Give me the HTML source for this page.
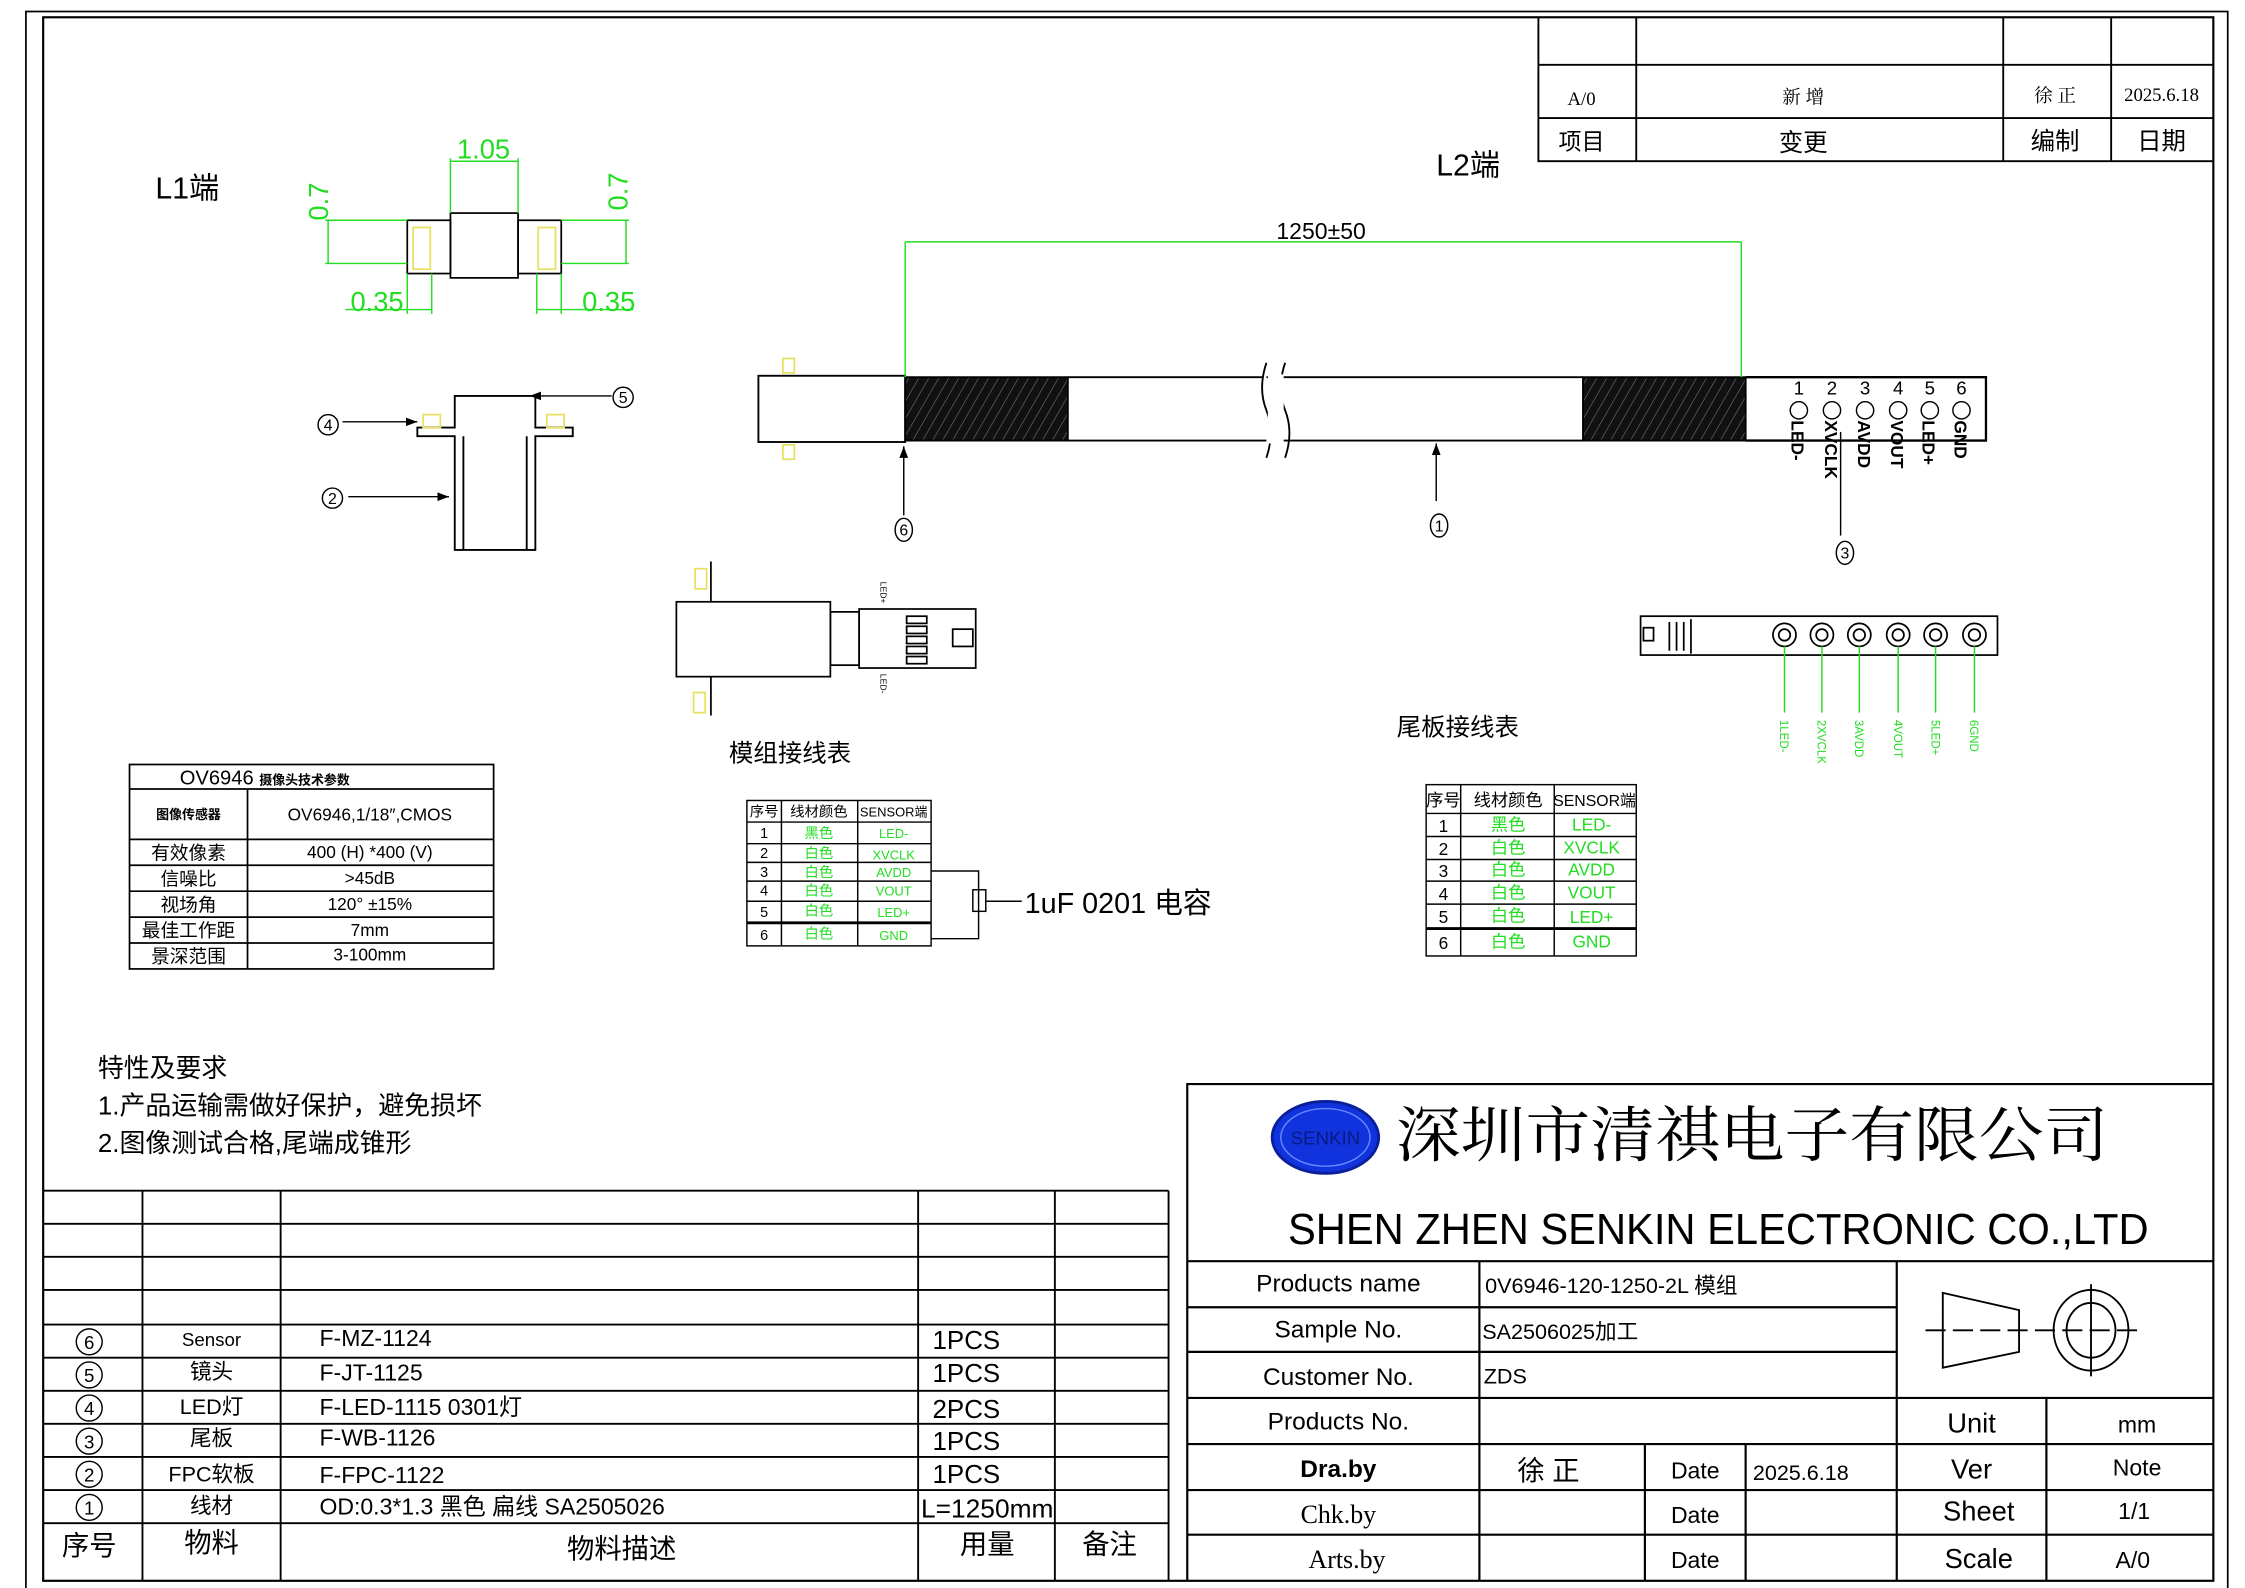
<!DOCTYPE html>
<html><head><meta charset="utf-8"><style>
html,body{margin:0;padding:0;background:#fff;}
svg{display:block;}
text{font-family:"Liberation Sans","Noto Sans CJK SC",sans-serif;fill:#000;}
.s{font-family:"Liberation Serif","Noto Serif CJK SC",serif;}
.g{fill:#22dd22;}
</style></head><body>
<svg width="2245" height="1588" viewBox="0 0 1560 1103" preserveAspectRatio="none" xmlns="http://www.w3.org/2000/svg">
<defs>
<marker id="ar" markerWidth="8" markerHeight="6" refX="8" refY="3" orient="auto"><path d="M0,0 L8,3 L0,6 z" fill="#000"/></marker>
<pattern id="hat" width="6" height="6" patternUnits="userSpaceOnUse" patternTransform="rotate(30)"><rect width="6" height="6" fill="#111"/><line x1="0" y1="0" x2="0" y2="6" stroke="#777" stroke-width="0.8"/></pattern>
</defs>
<g fill="none" stroke="#000">
<rect x="18" y="8" width="1530" height="1098" stroke-width="1.2"/>
<rect x="30" y="12" width="1508" height="1086" stroke-width="1.5"/>
<!-- revision block -->
<path d="M1069,12 V112 H1538 M1069,45 H1538 M1069,82 H1538 M1137,12 V112 M1392,12 V112 M1467,12 V112" stroke-width="1.3"/>
</g>
<g font-size="13" class="s" text-anchor="middle">
<text x="1099" y="73" class="s">A/0</text><text x="1253" y="72" class="s">新 增</text><text x="1428" y="71" class="s">徐 正</text><text x="1502" y="70" font-size="13" class="s">2025.6.18</text>
<text x="1099" y="104" font-size="16">项目</text><text x="1253" y="105" font-size="17">变更</text><text x="1428" y="104" font-size="17">编制</text><text x="1502" y="104" font-size="17">日期</text>
</g>
<text x="108" y="138" font-size="21">L1端</text>
<text x="998" y="122" font-size="21">L2端</text>

<!-- L1 dims -->
<g fill="none" stroke="#000" stroke-width="1.2">
<rect x="313" y="148" width="47" height="45"/><rect x="283" y="153" width="30" height="37"/><rect x="360" y="153" width="30" height="37"/>
</g>
<g fill="none" stroke="#e8e060" stroke-width="1.2"><rect x="287" y="158" width="12" height="29"/><rect x="374" y="158" width="12" height="29"/></g>
<g stroke="#22dd22" stroke-width="1" fill="none">
<path d="M313,148 V110 M360,148 V110 M313,112 H360"/>
<path d="M283,153 H226 M283,183 H226 M228,153 V183"/>
<path d="M390,153 H437 M390,183 H437 M435,153 V183"/>
<path d="M283,190 V218 M300,190 V218 M240,215 H300"/>
<path d="M373,190 V218 M390,190 V218 M373,215 H440"/>
</g>
<g class="g" font-size="19" text-anchor="middle">
<text x="336" y="110" class="g">1.05</text><text x="262" y="216" class="g">0.35</text><text x="423" y="216" class="g">0.35</text>
<text transform="translate(228,140) rotate(-90)" class="g">0.7</text><text transform="translate(436,133) rotate(-90)" class="g">0.7</text>
</g>

<!-- lens side -->
<g fill="none" stroke="#000" stroke-width="1.3">
<path d="M290,297 H316 V275 H372 V297 H398 V303 H372 V382 H316 V303 H290 Z"/>
<path d="M322,303 V382 M366,303 V382"/>
</g>
<g fill="none" stroke="#e8e060" stroke-width="1.2"><rect x="294" y="288" width="12" height="9"/><rect x="380" y="288" width="12" height="9"/></g>
<g stroke="#000" stroke-width="1" fill="none">
<path d="M238,293 H290" marker-end="url(#ar)"/><path d="M425,275 H368" marker-end="url(#ar)"/><path d="M242,345 H312" marker-end="url(#ar)"/>
<circle cx="228" cy="295" r="7"/><circle cx="433" cy="276" r="7"/><circle cx="231" cy="346" r="7"/>
</g>
<g font-size="11" text-anchor="middle"><text x="228" y="299">4</text><text x="433" y="280">5</text><text x="231" y="350">2</text></g>

<!-- cable -->
<g stroke="#000" stroke-width="1.3" fill="none">
<rect x="527" y="261" width="102" height="46" fill="#fff"/>
<rect x="629" y="262" width="113" height="44" fill="url(#hat)"/>
<path d="M742,262 H1100 M742,306 H1100"/>
<rect x="1100" y="262" width="113" height="44" fill="url(#hat)"/>
<path d="M1213,262 H1380 V306 H1213" stroke-width="1.6"/>
<path d="M880,252 Q874,270 880,285 Q886,300 880,318" stroke="#000" fill="#fff"/>
<path d="M893,252 Q887,270 893,285 Q899,300 893,318"/>
</g>
<rect x="881" y="260" width="11" height="48" fill="#fff"/>
<g fill="none" stroke="#e8e060" stroke-width="1.2"><rect x="544" y="249" width="8" height="10"/><rect x="544" y="309" width="8" height="10"/></g>
<g stroke="#22dd22" stroke-width="1" fill="none"><path d="M629,262 V168 M1210,262 V168 M629,168 H1210"/></g>
<text x="918" y="166" font-size="16" text-anchor="middle">1250±50</text>
<g class="s" font-size="13" text-anchor="middle">
<text x="1250" y="274">1</text><text x="1273" y="274">2</text><text x="1296" y="274">3</text><text x="1319" y="274">4</text><text x="1341" y="274">5</text><text x="1363" y="274">6</text>
</g>
<g fill="none" stroke="#000" stroke-width="1"><circle cx="1250" cy="285" r="6"/><circle cx="1273" cy="285" r="6"/><circle cx="1296" cy="285" r="6"/><circle cx="1319" cy="285" r="6"/><circle cx="1341" cy="285" r="6"/><circle cx="1363" cy="285" r="6"/></g>
<g font-size="12" font-weight="bold">
<text transform="translate(1245,292) rotate(90)">LED-</text><text transform="translate(1268,292) rotate(90)">XVCLK</text><text transform="translate(1291,292) rotate(90)">AVDD</text><text transform="translate(1314,292) rotate(90)">VOUT</text><text transform="translate(1336,292) rotate(90)">LED+</text><text transform="translate(1358,292) rotate(90)">GND</text>
</g>
<g stroke="#000" stroke-width="1" fill="none">
<path d="M628,358 V310" marker-end="url(#ar)"/><path d="M998,348 V308" marker-end="url(#ar)"/><path d="M1279,372 V300"/>
<ellipse cx="628" cy="368" rx="6" ry="8"/><ellipse cx="1000" cy="365" rx="6" ry="8"/><ellipse cx="1282" cy="384" rx="6" ry="8"/>
</g>
<g font-size="11" text-anchor="middle"><text x="628" y="372">6</text><text x="1000" y="369">1</text><text x="1282" y="388">3</text></g>

<!-- module top view -->
<g fill="none" stroke="#000" stroke-width="1.2">
<path d="M494,390 V418 M494,470 V497"/>
<rect x="470" y="418" width="107" height="52"/>
<rect x="577" y="425" width="20" height="37"/>
<rect x="597" y="423" width="81" height="41"/>
<rect x="662" y="437" width="14" height="12"/>
<rect x="630" y="428" width="14" height="5"/><rect x="630" y="435" width="14" height="5"/><rect x="630" y="442" width="14" height="5"/><rect x="630" y="449" width="14" height="5"/><rect x="630" y="456" width="14" height="5"/>
</g>
<g fill="none" stroke="#e8e060" stroke-width="1.2"><rect x="483" y="395" width="8" height="14"/><rect x="482" y="481" width="8" height="14"/></g>
<g font-size="6"><text transform="translate(612,404) rotate(90)">LED+</text><text transform="translate(612,468) rotate(90)">LED-</text></g>

<!-- tail board front -->
<g fill="none" stroke="#000" stroke-width="1.2">
<rect x="1140" y="428" width="248" height="27"/><rect x="1142" y="436" width="7" height="9"/>
<path d="M1160,432 V452 M1165,432 V452 M1170,432 V452 M1175,430 V454"/>
<circle cx="1240" cy="441" r="8"/><circle cx="1266" cy="441" r="8"/><circle cx="1292" cy="441" r="8"/><circle cx="1319" cy="441" r="8"/><circle cx="1345" cy="441" r="8"/><circle cx="1372" cy="441" r="8"/>
<circle cx="1240" cy="441" r="4"/><circle cx="1266" cy="441" r="4"/><circle cx="1292" cy="441" r="4"/><circle cx="1319" cy="441" r="4"/><circle cx="1345" cy="441" r="4"/><circle cx="1372" cy="441" r="4"/>
</g>
<g stroke="#22dd22" stroke-width="1"><path d="M1240,449 V495 M1266,449 V495 M1292,449 V495 M1319,449 V495 M1345,449 V495 M1372,449 V495"/></g>
<g class="s g" font-size="8">
<text transform="translate(1237,500) rotate(90)" class="g">1LED-</text><text transform="translate(1263,500) rotate(90)" class="g">2XVCLK</text><text transform="translate(1289,500) rotate(90)" class="g">3AVDD</text><text transform="translate(1316,500) rotate(90)" class="g">4VOUT</text><text transform="translate(1342,500) rotate(90)" class="g">5LED+</text><text transform="translate(1369,500) rotate(90)" class="g">6GND</text>
</g>
<text x="549" y="529" font-size="17" text-anchor="middle">模组接线表</text>
<text x="1013" y="511" font-size="17" text-anchor="middle">尾板接线表</text>

<!-- spec table -->
<g fill="none" stroke="#000" stroke-width="1.2">
<rect x="90" y="531" width="253" height="142"/>
<path d="M90,548 H343 M90,583 H343 M90,601 H343 M90,619 H343 M90,637 H343 M90,655 H343 M172,548 V673"/>
</g>
<g class="s" text-anchor="middle" font-size="13">
<text x="184" y="545" font-size="14">ΟV6946 <tspan font-size="9" font-weight="bold">摄像头技术参数</tspan></text>
<text x="131" y="569" font-size="9" font-weight="bold">图像传感器</text><text x="257" y="570" font-size="12">OV6946,1/18″,CMOS</text>
<text x="131" y="597">有效像素</text><text x="257" y="596" font-size="12">400 (H) *400 (V)</text>
<text x="131" y="615">信噪比</text><text x="257" y="614" font-size="12">&gt;45dB</text>
<text x="131" y="633">视场角</text><text x="257" y="632" font-size="12">120° ±15%</text>
<text x="131" y="651">最佳工作距</text><text x="257" y="650" font-size="12">7mm</text>
<text x="131" y="669">景深范围</text><text x="257" y="667" font-size="12">3-100mm</text>
</g>

<!-- module wiring table -->
<g fill="none" stroke="#000" stroke-width="1">
<rect x="519" y="556" width="128" height="101"/>
<path d="M519,571 H647 M519,586 H647 M519,599 H647 M519,612 H647 M519,626 H647 M543,556 V657 M596,556 V657"/>
<path d="M519,641 H647" stroke-width="2"/>
<path d="M647,605 H680 V652 H647 M685,626 H710"/>
<rect x="676" y="618" width="9" height="15"/>
</g>
<g class="s" font-size="10" text-anchor="middle">
<text x="531" y="567">序号</text><text x="569" y="567">线材颜色</text><text x="621" y="567" font-size="9">SENSOR端</text>
<text x="531" y="582">1</text><text x="531" y="596">2</text><text x="531" y="609">3</text><text x="531" y="622">4</text><text x="531" y="637">5</text><text x="531" y="653">6</text>
<text x="569" y="582" class="g">黑色</text><text x="569" y="596" class="g">白色</text><text x="569" y="609" class="g">白色</text><text x="569" y="622" class="g">白色</text><text x="569" y="636" class="g">白色</text><text x="569" y="652" class="g">白色</text>
<text x="621" y="582" class="g" font-size="9">LED-</text><text x="621" y="597" class="g" font-size="9">XVCLK</text><text x="621" y="609" class="g" font-size="9">AVDD</text><text x="621" y="622" class="g" font-size="9">VOUT</text><text x="621" y="637" class="g" font-size="9">LED+</text><text x="621" y="653" class="g" font-size="9">GND</text>
</g>
<text x="712" y="634" font-size="20">1uF 0201 电容</text>

<!-- tail wiring table -->
<g fill="none" stroke="#000" stroke-width="1">
<rect x="991" y="545" width="146" height="119"/>
<path d="M991,565 H1137 M991,581 H1137 M991,597 H1137 M991,612 H1137 M991,628 H1137 M1015,545 V664 M1080,545 V664"/>
<path d="M991,645 H1137" stroke-width="2"/>
</g>
<g class="s" font-size="12" text-anchor="middle">
<text x="1003" y="560">序号</text><text x="1048" y="560">线材颜色</text><text x="1108" y="560" font-size="11">SENSOR端</text>
<text x="1003" y="578">1</text><text x="1003" y="594">2</text><text x="1003" y="609">3</text><text x="1003" y="625">4</text><text x="1003" y="641">5</text><text x="1003" y="659">6</text>
<text x="1048" y="577" class="g">黑色</text><text x="1048" y="593" class="g">白色</text><text x="1048" y="608" class="g">白色</text><text x="1048" y="624" class="g">白色</text><text x="1048" y="640" class="g">白色</text><text x="1048" y="658" class="g">白色</text>
<text x="1106" y="577" class="g">LED-</text><text x="1106" y="593" class="g">XVCLK</text><text x="1106" y="608" class="g">AVDD</text><text x="1106" y="624" class="g">VOUT</text><text x="1106" y="641" class="g">LED+</text><text x="1106" y="658" class="g">GND</text>
</g>

<!-- notes -->
<g class="s" font-size="18"><text x="68" y="748">特性及要求</text><text x="68" y="774">1.产品运输需做好保护，避免损坏</text><text x="68" y="800">2.图像测试合格,尾端成锥形</text></g>

<!-- BOM table -->
<g fill="none" stroke="#000" stroke-width="1.3">
<path d="M30,827 H812 M30,850 H812 M30,873 H812 M30,896 H812 M30,920 H812 M30,943 H812 M30,966 H812 M30,989 H812 M30,1012 H812 M30,1035 H812 M30,1058 H812 M812,827 V1098"/>
<path d="M99,827 V1098 M195,827 V1098 M638,827 V1098 M733,827 V1098"/>
</g>
<g fill="none" stroke="#000" stroke-width="1">
<circle cx="62" cy="932" r="9"/><circle cx="62" cy="955" r="9"/><circle cx="62" cy="978" r="9"/><circle cx="62" cy="1001" r="9"/><circle cx="62" cy="1024" r="9"/><circle cx="62" cy="1047" r="9"/>
</g>
<g font-size="13" text-anchor="middle"><text x="62" y="937">6</text><text x="62" y="960">5</text><text x="62" y="983">4</text><text x="62" y="1006">3</text><text x="62" y="1029">2</text><text x="62" y="1052">1</text></g>
<g font-size="15" text-anchor="middle">
<text x="147" y="935" font-size="13">Sensor</text><text x="147" y="958">镜头</text><text x="147" y="982">LED灯</text><text x="147" y="1004">尾板</text><text x="147" y="1029">FPC软板</text><text x="147" y="1051">线材</text>
<text x="62" y="1080" font-size="19">序号</text><text x="147" y="1078" font-size="19">物料</text><text x="432" y="1082" font-size="19">物料描述</text><text x="686" y="1079" font-size="19">用量</text><text x="771" y="1079" font-size="19">备注</text>
</g>
<g font-size="16">
<text x="222" y="935">F-MZ-1124</text><text x="222" y="959">F-JT-1125</text><text x="222" y="983">F-LED-1115 0301灯</text><text x="222" y="1004">F-WB-1126</text><text x="222" y="1030">F-FPC-1122</text><text x="222" y="1052">OD:0.3*1.3 黑色 扁线 SA2505026</text>
<text x="648" y="937" font-size="18">1PCS</text><text x="648" y="960" font-size="18">1PCS</text><text x="648" y="985" font-size="18">2PCS</text><text x="648" y="1007" font-size="18">1PCS</text><text x="648" y="1030" font-size="18">1PCS</text><text x="640" y="1054" font-size="18" textLength="92" lengthAdjust="spacingAndGlyphs">L=1250mm</text>
</g>

<!-- title block -->
<g fill="none" stroke="#000" stroke-width="1.5">
<path d="M825,1098 V753 H1538"/>
<path d="M825,876 H1538 M825,908 H1318 M825,939 H1318 M825,971 H1538 M825,1003 H1538 M825,1035 H1538 M825,1066 H1538"/>
<path d="M1028,876 V1098 M1318,876 V1098 M1422,971 V1098 M1143,1003 V1098 M1213,1003 V1098"/>
</g>
<ellipse cx="921" cy="790" rx="37" ry="25" fill="#1133dd" stroke="#0a1f99" stroke-width="2"/>
<ellipse cx="921" cy="790" rx="31" ry="20" fill="none" stroke="#6688ff" stroke-width="1"/>
<text x="921" y="795" font-size="13" text-anchor="middle" style="fill:#0a1a80">SENKIN</text>
<text x="970" y="803" font-size="42" class="s" textLength="495" lengthAdjust="spacingAndGlyphs">深圳市清祺电子有限公司</text>
<text x="895" y="864" font-size="30" textLength="598" lengthAdjust="spacingAndGlyphs">SHEN ZHEN SENKIN ELECTRONIC CO.,LTD</text>
<g font-size="17" text-anchor="middle">
<text x="930" y="897">Products name</text><text x="930" y="929">Sample No.</text><text x="930" y="962">Customer No.</text><text x="930" y="993">Products No.</text>
<text x="930" y="1026" font-weight="bold">Dra.by</text>
<text x="930" y="1058" class="s" font-size="18">Chk.by</text><text x="936" y="1089" class="s" font-size="18">Arts.by</text>
</g>
<g font-size="15">
<text x="1032" y="898">0V6946-120-1250-2L 模组</text><text x="1030" y="930">SA2506025加工</text><text x="1031" y="961">ZDS</text>
<text x="1218" y="1028">2025.6.18</text>
</g>
<g class="s" text-anchor="middle">
<text x="1076" y="1028" font-size="19">徐 正</text>
<text x="1178" y="1027" font-size="16">Date</text><text x="1178" y="1058" font-size="16">Date</text><text x="1178" y="1089" font-size="16">Date</text>
<text x="1370" y="995" font-size="19">Unit</text><text x="1485" y="995" font-size="16">mm</text>
<text x="1370" y="1027" font-size="19">Ver</text><text x="1485" y="1025" font-size="16">Note</text>
<text x="1375" y="1056" font-size="19">Sheet</text><text x="1483" y="1055" font-size="16">1/1</text>
<text x="1375" y="1089" font-size="19">Scale</text><text x="1482" y="1089" font-size="16">A/0</text>
</g>
<g fill="none" stroke="#000" stroke-width="1.3">
<path d="M1350,898 L1403,910 V939 L1350,950 Z"/>
<path d="M1338,924 H1490" stroke-dasharray="14,5"/>
<path d="M1453,892 V956"/>
<ellipse cx="1453" cy="924" rx="26" ry="28"/><ellipse cx="1453" cy="924" rx="17" ry="19"/>
</g>
</svg>
</body></html>
